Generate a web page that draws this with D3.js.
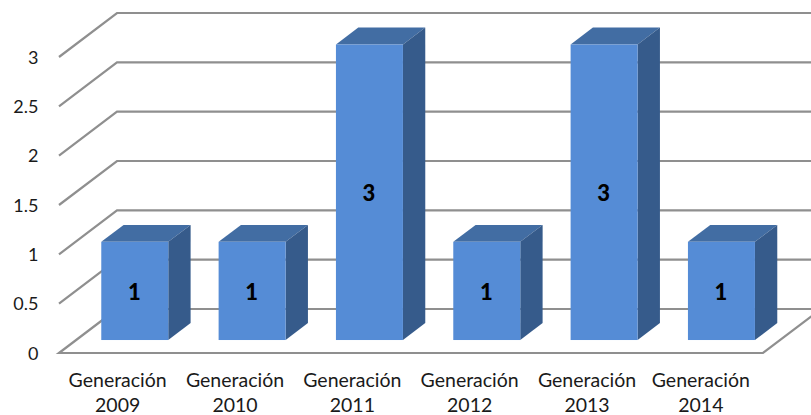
<!DOCTYPE html>
<html><head><meta charset="utf-8">
<script src="https://cdn.jsdelivr.net/npm/d3@7"></script>
<style>html,body{margin:0;padding:0;background:#fff;overflow:hidden}svg{display:block}text{font-family:Lato,"Open Sans",sans-serif;fill:#1a1a1a}</style>
</head><body><svg id="c" width="811" height="415"></svg>
<script>
const categories = ["Generación 2009","Generación 2010","Generación 2011","Generación 2012","Generación 2013","Generación 2014"];
const values = [1,1,3,1,3,1];
const yTicks = [0,0.5,1,1.5,2,2.5,3];
const yTickLabels = ["0","0.5","1","1.5","2","2.5","3"];

const svg = d3.select("#c");
const y = d3.scaleLinear().domain([0,3]).range([353,57]);
const x = d3.scaleBand().domain(categories).range([59,763]);
// oblique depth projection: 0 = front of floor, 1 = back wall
const depth = d3.scaleLinear().domain([0,1]).range([0,1]);
const DX = 58, DY = -44;
const px = (vx,z)=>vx+depth(z)*DX, py=(vy,z)=>vy+depth(z)*DY;
const line = d3.line();
const grid = "#8f8f8f";

const g = svg.append("g").attr("fill","none").attr("stroke",grid).attr("stroke-width",2.2);
yTicks.forEach(t=>{
  const pts = t===0
    ? [[px(59,1),py(y(0),1)],[px(59,0),py(y(0),0)],[px(763,0),py(y(0),0)],[px(763,1),py(y(0),1)]]
    : [[px(59,0),py(y(t),0)],[px(59,1),py(y(t),1)],[811,py(y(t),1)]];
  g.append("path").attr("d",line(pts));
});
g.append("path").attr("d",line([[px(59,1),py(y(0),1)],[811,py(y(0),1)]]));

svg.append("g").selectAll("text").data(yTicks).join("text")
  .attr("x",38.5).attr("y",d=>y(d)+6.5).attr("text-anchor","end").attr("font-size",18)
  .text((d,i)=>yTickLabels[i]);

// bar footprint in depth
const z0 = 0.295, z1 = 0.68, barW = 67;
const bars = svg.append("g");
categories.forEach((c,i)=>{
  const v = values[i];
  const cx = x(c)+x.bandwidth()/2;
  const l = px(cx-barW/2,z0), r = l+barW;
  const b = py(y(0),z0), t = py(y(v),z0)+0.5;
  const ddx = (z1-z0)*DX, ddy=(z1-z0)*DY;
  bars.append("path").attr("fill","#426da3")
    .attr("d",line([[l,t],[l+ddx,t+ddy],[r+ddx,t+ddy],[r,t]])+"Z");
  bars.append("path").attr("fill","#365b8b")
    .attr("d",line([[r,t],[r+ddx,t+ddy],[r+ddx,b+ddy],[r,b]])+"Z");
  bars.append("rect").attr("x",l).attr("y",t).attr("width",barW).attr("height",b-t).attr("fill","#558cd6");
  svg.append("text").attr("x",l+barW/2-0.5).attr("y",(t+b)/2+9).attr("text-anchor","middle")
    .attr("font-size",22).attr("font-weight","900").style("fill","#000").text(v);
  const parts = c.split(" ");
  const lx = i===categories.length-1 ? cx-3.5 : cx;
  svg.append("text").attr("x",lx).attr("y",387).attr("text-anchor","middle").attr("font-size",19.5).text(parts[0]);
  svg.append("text").attr("x",lx).attr("y",412).attr("text-anchor","middle").attr("font-size",19.5).text(parts[1]);
});
</script></body></html>
